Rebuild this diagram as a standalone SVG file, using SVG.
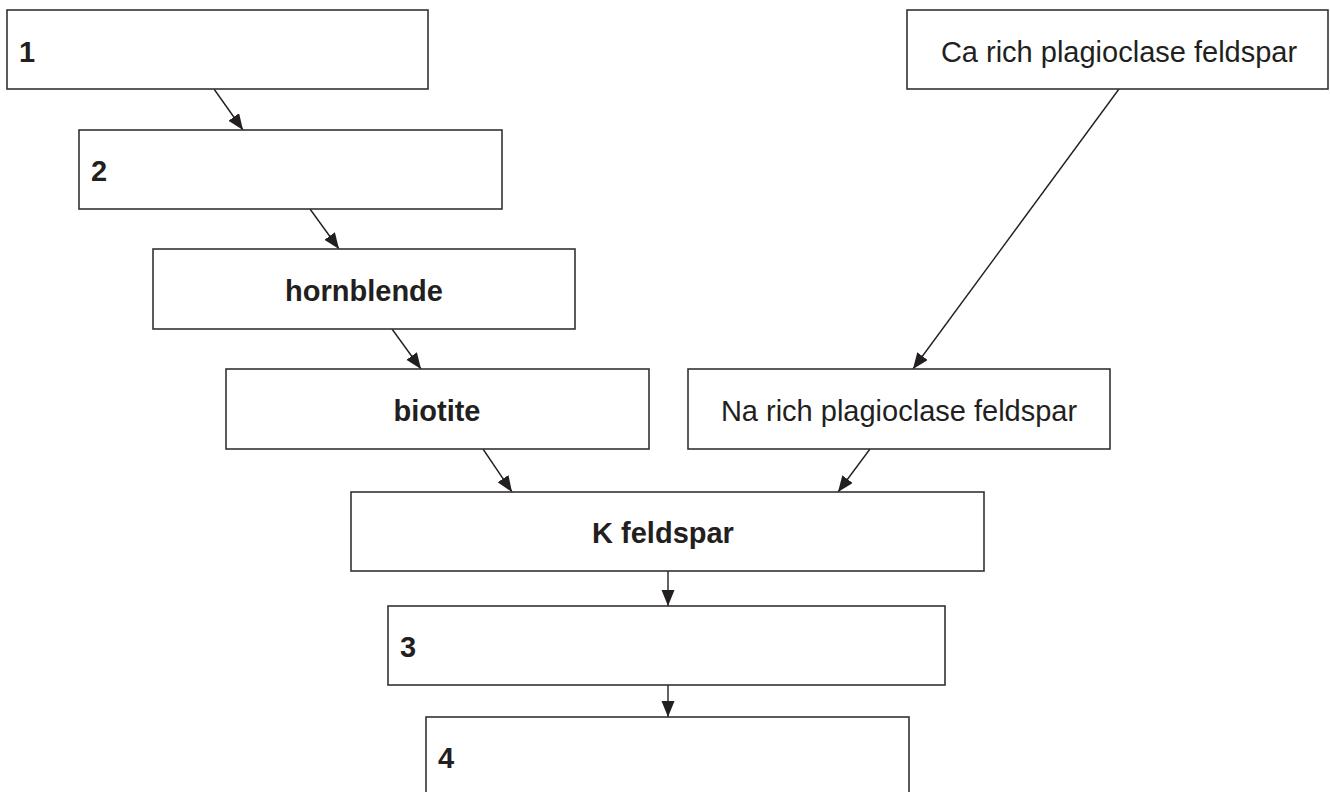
<svg xmlns="http://www.w3.org/2000/svg" width="1330" height="792" viewBox="0 0 1330 792">
<style>
.box{fill:#fff;stroke:#333;stroke-width:1.6}
.lbl{font-family:"Liberation Sans",Arial,sans-serif;font-size:29px;fill:#231f20}
.b{font-weight:bold}
.num{font-family:"Liberation Sans",Arial,sans-serif;font-size:29px;font-weight:bold;fill:#231f20}
.con{stroke:#231f20;stroke-width:1.4;fill:none;marker-end:url(#ah)}
</style>
<defs>
<marker id="ah" markerUnits="userSpaceOnUse" markerWidth="18" markerHeight="14" refX="16" refY="6.5" orient="auto">
<path d="M0,0 L16,6.5 L0,13 z" fill="#231f20"/>
</marker>
</defs>
<rect width="1330" height="792" fill="#fff"/>
<g id="connectors">
<line class="con" x1="214" y1="89" x2="243" y2="130"/>
<line class="con" x1="310" y1="209" x2="339" y2="249"/>
<line class="con" x1="392" y1="329" x2="421" y2="369"/>
<line class="con" x1="483" y1="449" x2="512" y2="492"/>
<line class="con" x1="870" y1="449" x2="838" y2="492"/>
<line class="con" x1="1119" y1="89" x2="913" y2="369"/>
<line class="con" x1="668" y1="571" x2="668" y2="606"/>
<line class="con" x1="668" y1="685" x2="668" y2="717"/>
</g>
<g id="n1"><rect class="box" x="7" y="10" width="421" height="79"/><text class="num" x="19" y="61.5">1</text></g>
<g id="n2"><rect class="box" x="79" y="130" width="423" height="79"/><text class="num" x="91" y="181">2</text></g>
<g id="hornblende"><rect class="box" x="153" y="249" width="422" height="80"/><text class="lbl b" x="364" y="300.5" text-anchor="middle">hornblende</text></g>
<g id="biotite"><rect class="box" x="226" y="369" width="423" height="80"/><text class="lbl b" x="437" y="420.5" text-anchor="middle">biotite</text></g>
<g id="ca"><rect class="box" x="907" y="10" width="421" height="79"/><text class="lbl" x="1119" y="61.5" text-anchor="middle">Ca rich plagioclase feldspar</text></g>
<g id="na"><rect class="box" x="688" y="369" width="422" height="80"/><text class="lbl" x="899" y="420.5" text-anchor="middle">Na rich plagioclase feldspar</text></g>
<g id="kfeldspar"><rect class="box" x="351" y="492" width="633" height="79"/><text class="lbl b" x="663" y="543" text-anchor="middle">K feldspar</text></g>
<g id="n3"><rect class="box" x="388" y="606" width="557" height="79"/><text class="num" x="400" y="657">3</text></g>
<g id="n4"><rect class="box" x="426" y="717" width="483" height="79"/><text class="num" x="438" y="768">4</text></g>
</svg>
